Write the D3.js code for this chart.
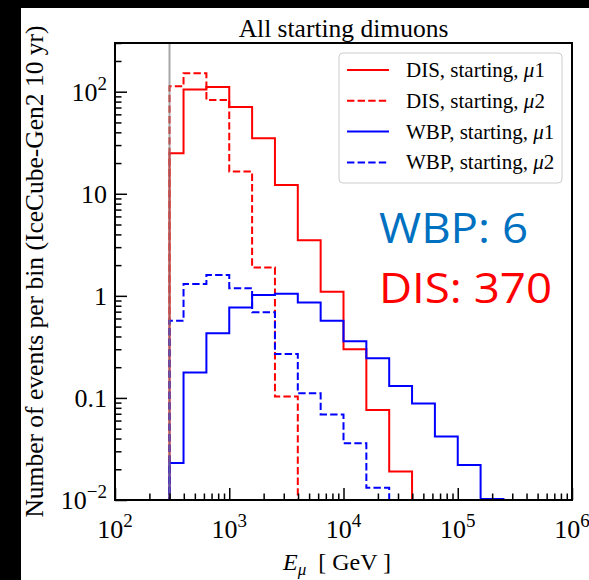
<!DOCTYPE html>
<html>
<head>
<meta charset="utf-8">
<script src="https://cdn.jsdelivr.net/npm/d3@7"></script>
<style>
  body { margin: 0; background: #000; }
  svg { display: block; }
</style>
</head>
<body>
<div id="vis"></div>
<script>
'use strict';

// bin edges in GeV (first bin starts at the 300 GeV threshold)
var binEdges = [300, 398, 631, 1000, 1585, 2512, 3981, 6310, 10000,
    15849, 25119, 39811, 63096, 100000, 158489, 251189];

// events per bin, IceCube-Gen2 10 yr
var disMu1 = [25, 105, 111, 71, 35, 12.2, 3.5, 1.1, 0.30, 0.076, 0.019];
var disMu2 = [113, 152, 83, 16.5, 1.9, 0.103];
var wbpMu1 = [0.023, 0.177, 0.43, 0.77, 1.02, 1.05, 0.86, 0.57, 0.36,
    0.245, 0.131, 0.088, 0.042, 0.022, 0.0102];
var wbpMu2 = [0.57, 1.31, 1.6, 1.19, 0.69, 0.27, 0.111, 0.069, 0.036, 0.0132];

var seriesNames = ['DIS, starting, ', 'DIS, starting, ', 'WBP, starting, ', 'WBP, starting, '];
var seriesIdx = ['1', '2', '1', '2'];
var xTickExp = [2, 3, 4, 5, 6];
var yTicks = [0.01, 0.1, 1, 10, 100];
var yTickLabels = [['10', '\u22122'], ['0.1'], ['1'], ['10'], ['10', '2']];
var threshold = 300;
var totals = [['WBP: 6', '#0070c0'], ['DIS: 370', '#ff0000']];

var W = 589, H = 580;
var pLeft = 115, pRight = 572, pTop = 43, pBottom = 500;
var serif = '"Liberation Serif", "Times New Roman", serif';

var svg = d3.select('#vis').append('svg')
    .attr('width', W)
    .attr('height', H);

// figure canvas
svg.append('rect')
    .attr('x', 21).attr('y', 8)
    .attr('width', W - 21).attr('height', H - 8)
    .attr('fill', '#fff');

var x = d3.scaleLog().domain([1e2, 1e6]).range([pLeft, pRight]);
var y = d3.scaleLog().domain([1e-2, 300]).range([pBottom, pTop]);

svg.append('clipPath').attr('id', 'plot-clip')
    .append('rect')
    .attr('x', pLeft).attr('y', pTop)
    .attr('width', pRight - pLeft).attr('height', pBottom - pTop);

var plot = svg.append('g').attr('clip-path', 'url(#plot-clip)');

// step outline of a histogram, dropping to the axis at both ends
function stepPoints(values) {
    var pts = [[x(binEdges[0]), pBottom + 5]];
    values.forEach(function (v, i) {
        pts.push([x(binEdges[i]), y(v)]);
        pts.push([x(binEdges[i + 1]), y(v)]);
    });
    pts.push([x(binEdges[values.length]), pBottom + 5]);
    return pts;
}

var line = d3.line();
var series = [
    { values: disMu1, color: '#ff0000', dash: null },
    { values: disMu2, color: '#ff0000', dash: '7.4,3.2' },
    { values: wbpMu1, color: '#0000ff', dash: null },
    { values: wbpMu2, color: '#0000ff', dash: '7.4,3.2' }
];

series.forEach(function (s) {
    plot.append('path')
        .attr('d', line(stepPoints(s.values)))
        .attr('fill', 'none')
        .attr('stroke', s.color)
        .attr('stroke-width', 2)
        .attr('stroke-dasharray', s.dash);
});

// energy threshold
plot.append('line')
    .attr('x1', x(threshold)).attr('x2', x(threshold))
    .attr('y1', pTop).attr('y2', pBottom)
    .attr('stroke', '#808080')
    .attr('stroke-opacity', 0.7)
    .attr('stroke-width', 2);

// ticks, pointing inwards
var minorX = [], minorY = [];
[2, 3, 4, 5].forEach(function (e) {
    for (var m = 2; m < 10; m++) { minorX.push(m * Math.pow(10, e)); }
});
[-2, -1, 0, 1, 2].forEach(function (e) {
    for (var m = 2; m < 10; m++) {
        var v = m * Math.pow(10, e);
        if (v <= 300) { minorY.push(v); }
    }
});

var axisG = svg.append('g');
axisG.append('g').attr('transform', 'translate(0,' + pBottom + ')')
    .call(d3.axisBottom(x).tickValues(xTickExp.map(function (e) { return Math.pow(10, e); }))
        .tickSize(-12).tickFormat(''));
axisG.append('g').attr('transform', 'translate(0,' + pBottom + ')')
    .call(d3.axisBottom(x).tickValues(minorX).tickSize(-6.5).tickFormat(''));
axisG.append('g').attr('transform', 'translate(' + pLeft + ',0)')
    .call(d3.axisLeft(y).tickValues(yTicks).tickSize(-12).tickFormat(''));
axisG.append('g').attr('transform', 'translate(' + pLeft + ',0)')
    .call(d3.axisLeft(y).tickValues(minorY).tickSize(-6.5).tickFormat(''));
axisG.selectAll('.domain').remove();
axisG.selectAll('line').attr('stroke', '#000').attr('stroke-width', 1.5);

svg.append('rect')
    .attr('x', pLeft).attr('y', pTop)
    .attr('width', pRight - pLeft).attr('height', pBottom - pTop)
    .attr('fill', 'none')
    .attr('stroke', '#000')
    .attr('stroke-width', 2);

// tick labels
xTickExp.forEach(function (e) {
    var t = svg.append('text')
        .attr('x', x(Math.pow(10, e)))
        .attr('y', 538)
        .attr('text-anchor', 'middle')
        .attr('font-family', serif)
        .attr('font-size', 26);
    t.append('tspan').text('10');
    t.append('tspan').attr('dy', -11).attr('font-size', 19).text(e);
});

yTicks.forEach(function (v, i) {
    var lab = yTickLabels[i];
    var t = svg.append('text')
        .attr('x', 107)
        .attr('y', y(v) + 9)
        .attr('text-anchor', 'end')
        .attr('font-family', serif)
        .attr('font-size', 26);
    t.append('tspan').text(lab[0]);
    if (lab.length > 1) {
        t.append('tspan').attr('dy', -11).attr('font-size', 19).text(lab[1]);
    }
});

// axis labels and title
var xl = svg.append('text')
    .attr('x', 337).attr('y', 570)
    .attr('text-anchor', 'middle')
    .attr('font-family', serif)
    .attr('font-size', 24);
xl.append('tspan').attr('font-style', 'italic').text('E');
xl.append('tspan').attr('font-style', 'italic').attr('font-size', 17).attr('dy', 5).text('\u03bc');
xl.append('tspan').attr('dy', -5).attr('xml:space', 'preserve').text('  [ GeV ]');

svg.append('text')
    .attr('transform', 'translate(43,' + ((pTop + pBottom) / 2) + ') rotate(-90)')
    .attr('text-anchor', 'middle')
    .attr('font-family', serif)
    .attr('font-size', 25.5)
    .text('Number of events per bin (IceCube-Gen2 10 yr)');

svg.append('text')
    .attr('x', (pLeft + pRight) / 2).attr('y', 37)
    .attr('text-anchor', 'middle')
    .attr('font-family', serif)
    .attr('font-size', 25.5)
    .text('All starting dimuons');

// legend
var legend = svg.append('g');
legend.append('rect')
    .attr('x', 339).attr('y', 53)
    .attr('width', 223).attr('height', 130)
    .attr('rx', 4)
    .attr('fill', '#fff')
    .attr('fill-opacity', 0.8)
    .attr('stroke', '#cccccc')
    .attr('stroke-width', 1);

series.forEach(function (s, i) {
    var cy = 70 + i * 30.8;
    legend.append('line')
        .attr('x1', 347).attr('x2', 389)
        .attr('y1', cy).attr('y2', cy)
        .attr('stroke', s.color)
        .attr('stroke-width', 2)
        .attr('stroke-dasharray', s.dash);
    var t = legend.append('text')
        .attr('x', 406).attr('y', cy + 7)
        .attr('font-family', serif)
        .attr('font-size', 21)
        .attr('xml:space', 'preserve');
    t.append('tspan').text(seriesNames[i]);
    t.append('tspan').attr('font-style', 'italic').text('\u03bc');
    t.append('tspan').text(seriesIdx[i]);
});

// integrated event counts
totals.forEach(function (d, i) {
    svg.append('text')
        .attr('x', 379).attr('y', 243 + i * 60)
        .attr('font-family', '"Open Sans", sans-serif')
        .attr('font-size', 42)
        .attr('fill', d[1])
        .attr('textLength', i === 0 ? 149 : 173)
        .attr('lengthAdjust', 'spacingAndGlyphs')
        .text(d[0]);
});
</script>
</body>
</html>
